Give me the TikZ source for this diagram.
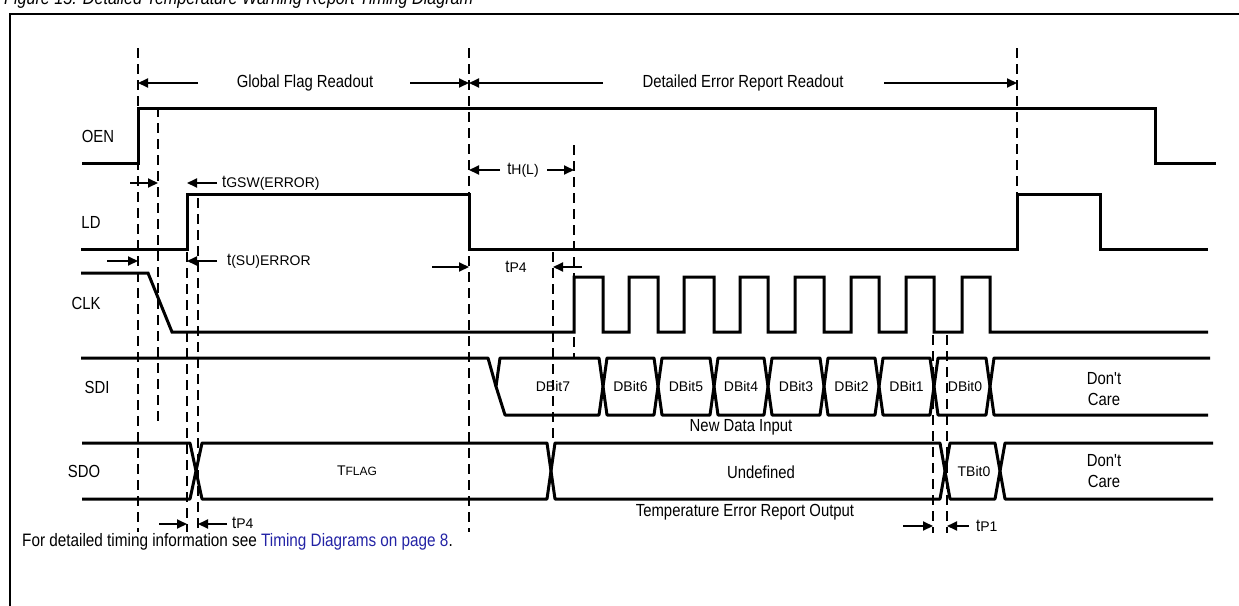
\documentclass[tikz,border=0pt]{standalone}
\usepackage{fontspec}
\setmainfont{Liberation Sans}
\newfontfamily\narrowfont[FakeStretch=0.85]{Liberation Sans}
\usetikzlibrary{arrows.meta}
\definecolor{linkblue}{RGB}{35,35,165}
\newcommand\fntN{\narrowfont\fontsize{17.5}{21}\selectfont}
\newcommand\fntR{\normalfont\fontsize{14}{17}\selectfont}
\newcommand\fntS{\normalfont\fontsize{12}{14}\selectfont}
\begin{document}
\begin{tikzpicture}[x=1pt,y=-1pt,
  sig/.style={line width=3pt},
  hex/.style={line width=3pt,line join=round},
  dsh/.style={line width=2pt,dash pattern=on 10pt off 6pt},
  arr/.style={line width=2pt,-{Triangle[length=10pt,width=9pt]}},
  lbl/.style={font=\fntN,inner sep=0pt},
  bit/.style={font=\fntR,inner sep=0pt}]
\useasboundingbox (0,0) rectangle (1239,605);
% title (cut off at top)
\node[font=\narrowfont\fontsize{19}{22}\selectfont\itshape,anchor=base west,inner sep=0pt] (title) at (4,5) {Figure 15. Detailed Temperature Warning Report Timing Diagram};
% frame
\draw[line width=2pt] (10,620) -- (10,14) -- (1250,14);
% reference x positions
\coordinate (d1) at (138,0);
\coordinate (d2) at (158,0);
\coordinate (d3) at (187,0);
\coordinate (d4) at (198,0);
\coordinate (d5) at (469,0);
\coordinate (d6) at (1017,0);
\coordinate (d7) at (553,0);
\coordinate (d8) at (574,0);
\coordinate (d9) at (933,0);
\coordinate (d10) at (947,0);
% dashed guides
\draw[dsh] (138,48) -- (138,532);
\draw[dsh] (158,107) -- (158,425);
\draw[dsh] (187,252) -- (187,532);
\draw[dsh] (198,198) -- (198,532);
\draw[dsh] (469,48) -- (469,532);
\draw[dsh] (1017,48) -- (1017,249);
\draw[dsh] (553,252) -- (553,440);
\draw[dsh] (574,145) -- (574,358);
\draw[dsh] (933,335) -- (933,533);
\draw[dsh] (947,335) -- (947,533);
% top span arrows
\node[lbl] (gfr) at (305,83) {Global Flag Readout};
\node[lbl] (der) at (743,83) {Detailed Error Report Readout};
\draw[arr] (198,83) -- (d1 |- 0,83);
\draw[arr] (410,83) -- (d5 |- 0,83);
\draw[arr] (603,83) -- (d5 |- 0,83);
\draw[arr] (884,83) -- (d6 |- 0,83);
% signal names
\node[lbl] (oen) at (98,136) {OEN};
\node[lbl] (ld) at (91,222) {LD};
\node[lbl] (clk) at (86,303) {CLK};
\node[lbl] (sdi) at (97,387) {SDI};
\node[lbl] (sdo) at (84,471) {SDO};
% OEN
\draw[sig] (82,163) -- (138,163) -- (138,108) -- (1155,108) -- (1155,163) -- (1216,163);
% LD
\draw[sig] (81,249) -- (187,249) -- (187,194) -- (469,194) -- (469,249) -- (1017,249) -- (1017,194) -- (1100,194) -- (1100,249) -- (1208,249);
% CLK
\draw[sig] (81,273) -- (148,273) -- (172,332) -- (574,332)
  -- (574,277) -- (603,277) -- (603,332) -- (629,332)
  -- (629,277) -- (658,277) -- (658,332) -- (684,332)
  -- (684,277) -- (714,277) -- (714,332) -- (740,332)
  -- (740,277) -- (768,277) -- (768,332) -- (795,332)
  -- (795,277) -- (824,277) -- (824,332) -- (851,332)
  -- (851,277) -- (879,277) -- (879,332) -- (906,332)
  -- (906,277) -- (934,277) -- (934,332) -- (962,332)
  -- (962,277) -- (990,277) -- (990,332) -- (1208,332);
% SDI
\draw[hex] (81,358) -- (488,358) -- (496,386.5);
\draw[hex] (496,386.5) -- (500,358) -- (599,358) -- (603,386.5) -- (599,415) -- (505,415) -- cycle;
\foreach \a/\b in {603/658,658/714,714/768,768/824,824/879,879/934,934/990}{
  \draw[hex] (\a,386.5) -- (\a+4,358) -- (\b-4,358) -- (\b,386.5) -- (\b-4,415) -- (\a+4,415) -- cycle;
}
\draw[hex] (1210,358) -- (994,358) -- (990,386.5) -- (994,415) -- (1208,415);
\node[bit] (b7) at (553,386.5) {DBit7};
\node[bit] (b6) at (630.5,386.5) {DBit6};
\node[bit] (b5) at (686,386.5) {DBit5};
\node[bit] (b4) at (741,386.5) {DBit4};
\node[bit] (b3) at (796,386.5) {DBit3};
\node[bit] (b2) at (851.5,386.5) {DBit2};
\node[bit] (b1) at (906.5,386.5) {DBit1};
\node[bit] (b0) at (965,386.5) {DBit0};
\node[lbl,align=center] (dc1) at (1104,389) {Don't\\Care};
\node[lbl] (ndi) at (741,427) {New Data Input};
% SDO
\draw[hex] (82,443) -- (190,443) -- (196,471) -- (190,499) -- (82,499);
\draw[hex] (196,471) -- (202,443) -- (547,443) -- (551,471) -- (547,499) -- (202,499) -- cycle;
\draw[hex] (551,471) -- (555,443) -- (940,443) -- (945,471) -- (940,499) -- (555,499) -- cycle;
\draw[hex] (945,471) -- (950,443) -- (995,443) -- (1000,471) -- (995,499) -- (950,499) -- cycle;
\draw[hex] (1213,443) -- (1005,443) -- (1000,471) -- (1005,499) -- (1213,499);
\node[inner sep=0pt] (tflag) at (357,471) {\fntR T\fntS FLAG};
\node[lbl] (undef) at (761,472) {Undefined};
\node[bit] (tb0) at (974,471) {TBit0};
\node[lbl,align=center] (dc2) at (1104,471) {Don't\\Care};
\node[lbl] (tero) at (745,512) {Temperature Error Report Output};
% timing annotations
\draw[arr] (130,183) -- (d2 |- 0,183);
\draw[arr] (217,183) -- (d3 |- 0,183);
\node[anchor=west,inner sep=0pt] (tgsw) at (222,183) {\fntN t\fntR GSW(ERROR)};
\draw[arr] (107,261) -- (d1 |- 0,261);
\draw[arr] (217,261) -- (d3 |- 0,261);
\node[anchor=west,inner sep=0pt] (tsu) at (227,261) {\fntN t\fntR(SU)ERROR};
\draw[arr] (500,170) -- (d5 |- 0,170);
\draw[arr] (547,170) -- (d8 |- 0,170);
\node[inner sep=0pt] (thl) at (523,170) {\fntN t\fntR H(L)};
\draw[arr] (432,267) -- (d5 |- 0,267);
\draw[arr] (582,267) -- (d7 |- 0,267);
\node[inner sep=0pt] (tp4a) at (516,267) {\fntN t\fntR P4};
\draw[arr] (159,524) -- (d3 |- 0,524);
\draw[arr] (227,524) -- (d4 |- 0,524);
\node[anchor=west,inner sep=0pt] (tp4b) at (232,523) {\fntN t\fntR P4};
\draw[arr] (903,526) -- (d9 |- 0,526);
\draw[arr] (969,526) -- (d10 |- 0,526);
\node[anchor=west,inner sep=0pt] (tp1) at (976,526) {\fntN t\fntR P1};
% footer
\node[font=\narrowfont\fontsize{18}{21}\selectfont,inner sep=0pt,anchor=west] (foot) at (22,542) {For detailed timing information see \textcolor{linkblue}{Timing Diagrams on page 8}.};
\end{tikzpicture}
\end{document}
